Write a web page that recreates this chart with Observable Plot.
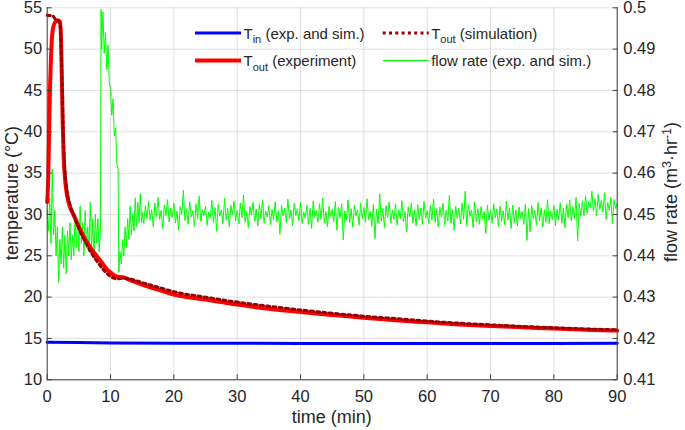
<!DOCTYPE html>
<html><head><meta charset="utf-8">
<script src="https://cdn.jsdelivr.net/npm/d3@7"></script>
<script src="https://cdn.jsdelivr.net/npm/@observablehq/plot@0.6"></script>
<style>
html,body{margin:0;padding:0;background:#fff;}
#chart{position:relative;width:685px;height:430px;overflow:hidden;}
</style></head><body><div id="chart"></div>
<script>
// ---- axis ticks ----
const timeTicks = [0, 10, 20, 30, 40, 50, 60, 70, 80, 90];
const tempTicks = [10, 15, 20, 25, 30, 35, 40, 45, 50, 55];
const flowTicks = [0.41, 0.42, 0.43, 0.44, 0.45, 0.46, 0.47, 0.48, 0.49, 0.50];
const flowTickLabels = ["0.41", "0.42", "0.43", "0.44", "0.45", "0.46", "0.47", "0.48", "0.49", "0.5"];

// ---- T_in (exp. and sim.) ----
const tinTime = [0, 5, 10, 20, 30, 40, 50, 60, 70, 80, 90];
const tinTemp = [14.55, 14.5, 14.45, 14.42, 14.42, 14.4, 14.4, 14.4, 14.4, 14.4, 14.42];

// ---- T_out (experiment) ----
const toutExpTime = [0, 0.15, 0.3, 0.45, 0.6, 0.8, 1.0, 1.3, 1.7, 2.0, 2.15, 2.3, 2.45, 2.6, 2.8, 3.0, 3.4, 3.8, 4.2, 5, 6, 7, 8, 8.7, 9.5, 10.3, 11, 12, 13, 15, 17.5, 20, 25, 30, 35, 40, 45, 50, 55, 60, 65, 70, 75, 80, 85, 90];
const toutExpTemp = [31.5, 34, 40, 45.5, 49, 51.8, 52.8, 53.3, 53.5, 53.3, 52, 47, 41, 37, 34.5, 33.0, 31.4, 30.5, 29.9, 28.5, 27.0, 25.8, 24.8, 24.1, 23.3, 22.8, 22.5, 22.4, 22.1, 21.5, 20.9, 20.3, 19.7, 19.1, 18.6, 18.2, 17.85, 17.5, 17.2, 16.95, 16.7, 16.5, 16.35, 16.2, 16.05, 15.95];

// ---- T_out (simulation) ----
const toutSimTime = [0, 0.9, 1.2, 1.8, 2.1, 2.25, 2.4, 2.55, 2.7, 2.9, 3.2, 3.6, 4.2, 5, 6, 7, 8, 9, 10, 10.5, 11, 12, 13, 15, 17.5, 20, 25, 30, 35, 40, 45, 50, 55, 60, 65, 70, 75, 80, 85, 90];
const toutSimTemp = [54.1, 54.0, 53.7, 53.4, 52.5, 49, 44, 39.5, 36.5, 34.3, 32.5, 31.2, 29.9, 28.3, 26.7, 25.3, 24.2, 23.2, 22.5, 22.3, 22.2, 22.3, 22.2, 21.75, 21.2, 20.65, 20.0, 19.4, 18.9, 18.45, 18.05, 17.7, 17.4, 17.1, 16.85, 16.65, 16.45, 16.3, 16.15, 16.05];

// ---- flow rate (exp. and sim.), m3/hr ----
const flowEarlyTime = [0, 0.2, 0.4, 0.6, 0.8, 1.0, 1.2, 1.4, 1.6, 1.8, 2.0, 2.2, 2.4, 2.6, 2.8, 3.0, 3.2, 3.4, 3.6, 3.8, 4.0, 4.2, 4.4, 4.6, 4.8, 5.0, 5.2, 5.4, 5.6, 5.8, 6.0, 6.2, 6.4, 6.6, 6.8, 7.0, 7.2, 7.4, 7.6, 7.8, 8.0, 8.2, 8.4, 8.5, 8.6, 8.8, 9.0, 9.2, 9.4, 9.6, 9.8, 10.0, 10.2, 10.4, 10.6, 10.8, 11.0, 11.2, 11.3, 11.5, 11.7, 11.9, 12.1, 12.3, 12.5, 12.7, 12.9, 13.1, 13.3, 13.5, 13.7, 13.9, 14.1, 14.3, 14.5, 14.7, 14.9];
const flowEarly = [0.451, 0.446, 0.454, 0.443, 0.461, 0.445, 0.451, 0.440, 0.447, 0.4336, 0.444, 0.438, 0.447, 0.437, 0.445, 0.4356, 0.446, 0.440, 0.448, 0.439, 0.445, 0.440, 0.450, 0.442, 0.449, 0.441, 0.452, 0.443, 0.448, 0.440, 0.451, 0.442, 0.447, 0.441, 0.453, 0.442, 0.449, 0.440, 0.450, 0.443, 0.449, 0.441, 0.446, 0.4996, 0.490, 0.499, 0.489, 0.494, 0.485, 0.491, 0.482, 0.480, 0.474, 0.478, 0.469, 0.471, 0.462, 0.461, 0.436, 0.441, 0.438, 0.444, 0.440, 0.447, 0.442, 0.449, 0.444, 0.452, 0.445, 0.450, 0.446, 0.454, 0.447, 0.453, 0.448, 0.455, 0.448];
const flowSteadyStart = 15, flowSteadyStep = 0.25;
const flowSteady = [
0.4505,0.4478,0.4521,0.4490,0.4532,0.4486,0.4512,0.4470,0.4528,0.4495,0.4541,0.4488,0.4510,0.4466,0.4523,0.4497,0.4536,0.4482,0.4515,0.4493,
0.4527,0.4479,0.4508,0.4462,0.4519,0.4501,0.4558,0.4485,0.4514,0.4476,0.4531,0.4494,0.4509,0.4471,0.4526,0.4489,0.4545,0.4483,0.4512,0.4497,
0.4520,0.4474,0.4506,0.4491,0.4534,0.4480,0.4517,0.4459,0.4524,0.4496,0.4511,0.4478,0.4539,0.4487,0.4515,0.4470,0.4522,0.4500,0.4533,0.4485,
0.4510,0.4477,0.4528,0.4492,0.4547,0.4481,0.4507,0.4468,0.4519,0.4498,0.4530,0.4484,0.4513,0.4472,0.4525,0.4490,0.4536,0.4479,0.4508,0.4494,
0.4521,0.4475,0.4512,0.4487,0.4531,0.4482,0.4509,0.4452,0.4523,0.4496,0.4516,0.4480,0.4537,0.4489,0.4511,0.4473,0.4527,0.4497,0.4514,0.4485,
0.4529,0.4478,0.4506,0.4491,0.4522,0.4476,0.4515,0.4466,0.4533,0.4493,0.4510,0.4481,0.4526,0.4488,0.4540,0.4479,0.4507,0.4470,0.4520,0.4495,
0.4512,0.4483,0.4531,0.4462,0.4518,0.4492,0.4525,0.4438,0.4509,0.4486,0.4535,0.4480,0.4514,0.4469,0.4523,0.4496,0.4511,0.4474,0.4528,0.4490,
0.4517,0.4481,0.4538,0.4487,0.4508,0.4471,0.4524,0.4442,0.4513,0.4478,0.4550,0.4484,0.4515,0.4467,0.4521,0.4492,0.4530,0.4479,0.4510,0.4488,
0.4526,0.4474,0.4512,0.4490,0.4533,0.4483,0.4507,0.4458,0.4519,0.4494,0.4528,0.4480,0.4511,0.4472,0.4524,0.4487,0.4516,0.4476,0.4532,0.4491,
0.4509,0.4478,0.4522,0.4486,0.4537,0.4481,0.4514,0.4469,0.4518,0.4493,0.4527,0.4475,0.4510,0.4484,0.4546,0.4479,0.4512,0.4462,0.4520,0.4490,
0.4515,0.4477,0.4528,0.4488,0.4556,0.4473,0.4524,0.4495,0.4511,0.4468,0.4531,0.4482,0.4514,0.4476,0.4519,0.4489,0.4507,0.4454,0.4522,0.4486,
0.4510,0.4479,0.4526,0.4491,0.4513,0.4471,0.4520,0.4484,0.4509,0.4475,0.4532,0.4487,0.4516,0.4466,0.4523,0.4480,0.4511,0.4472,0.4518,0.4489,
0.4507,0.4476,0.4525,0.4437,0.4514,0.4458,0.4521,0.4490,0.4510,0.4474,0.4529,0.4485,0.4517,0.4470,0.4512,0.4481,0.4536,0.4478,0.4509,0.4487,
0.4522,0.4473,0.4513,0.4486,0.4528,0.4479,0.4515,0.4468,0.4524,0.4492,0.4535,0.4484,0.4519,0.4490,0.4541,0.4436,0.4527,0.4495,0.4533,0.4497,
0.4545,0.4502,0.4531,0.4515,0.4556,0.4508,0.4538,0.4496,0.4549,0.4512,0.4534,0.4505,0.4553,0.4488,0.4529,0.4510,0.4541,0.4478,0.4536,0.4514,
0.4528];

// ---- build tables ----
const tin = tinTime.map((t, i) => ({t, v: tinTemp[i]}));
const toutExp = toutExpTime.map((t, i) => ({t, v: toutExpTemp[i]}));
const toutSim = toutSimTime.map((t, i) => ({t, v: toutSimTemp[i]}));
const flow = [
  ...flowEarlyTime.map((t, i) => ({t, f: flowEarly[i]})),
  ...flowSteady.map((f, i) => ({t: flowSteadyStart + i * flowSteadyStep, f}))
];
// right axis (0.41–0.50) shares the vertical extent of the left axis (10–55)
const flowToTemp = f => 10 + (f - 0.41) * (45 / 0.09);
const flowTickPos = flowTicks.map(flowToTemp);

const FONT = "'Liberation Sans', Arial, Helvetica, sans-serif";
const AX = "#404040", TXT = "#262626";

const svg = Plot.plot({
  width: 685, height: 430,
  marginLeft: 46.7, marginRight: 68.3, marginTop: 7.3, marginBottom: 50.7,
  style: {fontFamily: FONT, fontSize: "16.5px", color: TXT, background: "#fff", overflow: "visible"},
  x: {domain: [0, 90]},
  y: {domain: [10, 55]},
  marks: [
    Plot.gridX(timeTicks, {stroke: "#000", strokeOpacity: 0.12}),
    Plot.gridY(tempTicks, {stroke: "#000", strokeOpacity: 0.12}),
    Plot.line(flow, {x: "t", y: d => flowToTemp(d.f), stroke: "#00ff00", strokeWidth: 1}),
    Plot.line(tin, {x: "t", y: "v", stroke: "#0000ff", strokeWidth: 3}),
    Plot.line(toutExp, {x: "t", y: "v", stroke: "#ff0000", strokeWidth: 4, curve: "monotone-x"}),
    Plot.line(toutSim, {x: "t", y: "v", stroke: "#990000", strokeWidth: 3, strokeDasharray: "3,3.3", curve: "monotone-x"}),
    Plot.ruleX([0, 90], {stroke: AX}),
    Plot.ruleY([10], {stroke: AX}),
    Plot.axisX(timeTicks, {anchor: "bottom", tickSize: -5, tickPadding: 15.7, label: null, stroke: AX, fill: TXT}),
    Plot.axisY(tempTicks, {anchor: "left", tickSize: -5, tickPadding: 10, label: null, stroke: AX, fill: TXT}),
    Plot.axisY(flowTickPos, {anchor: "right", tickSize: -5, tickPadding: 11, label: null, stroke: AX, fill: TXT,
      tickFormat: d => flowTickLabels[flowTickPos.indexOf(d)]})
  ]
});
document.getElementById("chart").appendChild(svg);

// ---- axis titles and legend (text) ----
const s = d3.select(svg);
const g = s.append("g").attr("font-family", FONT).attr("fill", TXT).attr("text-anchor", "middle").attr("font-size", 18);
g.append("text").attr("x", 331.7).attr("y", 423).text("time (min)");
g.append("text").attr("transform", "translate(18,193) rotate(-90)").text("temperature (°C)");
const fr = g.append("text").attr("transform", "translate(677,192) rotate(-90)");
fr.append("tspan").text("flow rate (m");
fr.append("tspan").attr("font-size", 12.5).attr("dy", -6.5).text("3");
fr.append("tspan").attr("dy", 6.5).text("·hr");
fr.append("tspan").attr("font-size", 12.5).attr("dy", -6.5).text("-1");
fr.append("tspan").attr("dy", 6.5).text(")");

const legendItems = [
  {x: 195, y: 33, stroke: "#0000ff", w: 3, dash: null, sub: "in", label: " (exp. and sim.)"},
  {x: 382.7, y: 33, stroke: "#990000", w: 3, dash: "3,3.3", sub: "out", label: " (simulation)"},
  {x: 195, y: 60.5, stroke: "#ff0000", w: 4, dash: null, sub: "out", label: " (experiment)"},
  {x: 382.7, y: 60.5, stroke: "#00ff00", w: 1, dash: null, sub: null, label: "flow rate (exp. and sim.)"}
];
const lg = s.append("g").attr("font-family", FONT).attr("fill", TXT).attr("font-size", 15).attr("text-anchor", "start");
for (const it of legendItems) {
  lg.append("line").attr("x1", it.x).attr("x2", it.x + 46).attr("y1", it.y).attr("y2", it.y)
    .attr("stroke", it.stroke).attr("stroke-width", it.w).attr("stroke-dasharray", it.dash);
  const t = lg.append("text").attr("x", it.x + 48.5).attr("y", it.y + 5.5);
  if (it.sub) {
    t.append("tspan").text("T");
    t.append("tspan").attr("font-size", 11).attr("dy", 4.5).text(it.sub);
    t.append("tspan").attr("dy", -4.5).text(it.label);
  } else {
    t.text(it.label);
  }
}
</script></body></html>
